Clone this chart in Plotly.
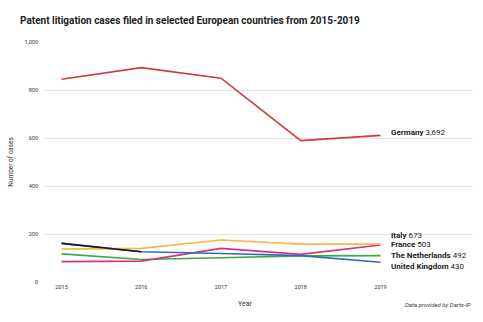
import plotly.graph_objects as go

years = [2015, 2016, 2017, 2018, 2019]
tick_labels = ["2015", "2016", "2017", "2018", "2019"]
germany = [845, 893, 849, 589, 611]
italy = [137, 140, 175, 158, 158]
france = [85, 87, 140, 115, 154]
netherlands = [117, 94, 101, 109, 110]
uk = [161, 126, 119, 110, 82]

countries = ["Germany", "Italy", "France", "The Netherlands", "United Kingdom"]
totals = ["3,692", "673", "503", "492", "430"]
label_y = [621, 192, 156, 112, 66]

colors = {
    "Germany": "#d23a35",
    "Italy": "#f2b84b",
    "France": "#d6307e",
    "The Netherlands": "#3fa748",
    "United Kingdom": "#2a6fb5",
}

fig = go.Figure()
for name, vals in [("The Netherlands", netherlands), ("France", france),
                   ("United Kingdom", uk), ("Italy", italy), ("Germany", germany)]:
    fig.add_trace(go.Scatter(x=years, y=vals, mode="lines", name=name,
                             line=dict(color=colors[name], width=1.6)))
fig.add_trace(go.Scatter(x=years[:2], y=uk[:2], mode="lines", name="UK 2015",
                         line=dict(color="#1a1a1a", width=1.6)))

font_family = "Roboto, Open Sans, sans-serif"
for c, t, yv in zip(countries, totals, label_y):
    fig.add_annotation(x=2019, y=yv, xref="x", yref="y", xanchor="left", yanchor="middle",
                       xshift=8, showarrow=False,
                       text=f"<b>{c}</b> {t}",
                       font=dict(family=font_family, size=8, color="#222"))

fig.add_annotation(xref="paper", yref="paper", x=(240 - 33) / 440, y=-(304 - 282) / 240,
                   xanchor="center", yanchor="middle", text="Year", showarrow=False,
                   font=dict(family=font_family, size=7, color="#333"))
fig.add_annotation(xref="paper", yref="paper", x=1.0, y=-(304 - 282) / 240, xanchor="right",
                   yanchor="middle", showarrow=False, text="<i>Data provided by Darts-IP</i>",
                   font=dict(family=font_family, size=6, color="#333"))

fig.update_layout(
    width=483, height=322,
    margin=dict(l=33, r=10, t=42, b=40),
    paper_bgcolor="white", plot_bgcolor="white",
    showlegend=False,
    title=dict(text="<b>Patent litigation cases filed in selected European countries from 2015-2019</b>",
               x=20 / 483, xanchor="left", y=1 - 20 / 322, yanchor="middle",
               font=dict(family=font_family, size=10, color="#222")),
    xaxis=dict(range=[2014.78, 2020.16], tickvals=years, ticktext=tick_labels,
               showgrid=False, zeroline=False, showline=False,
               tickfont=dict(family=font_family, size=5.5, color="#333")),
    yaxis=dict(range=[0, 1000], tickvals=[0, 200, 400, 600, 800, 1000],
               ticktext=["0", "200", "400", "600", "800", "1,000"],
               showgrid=True, gridcolor="#e3e3e3", gridwidth=1, zeroline=False,
               showline=False, ticklabelstandoff=5,
               tickfont=dict(family=font_family, size=5.5, color="#333"),
               title=dict(text="Number of cases", standoff=10,
                          font=dict(family=font_family, size=6.5, color="#333"))),
)

fig.write_html("out.html")
